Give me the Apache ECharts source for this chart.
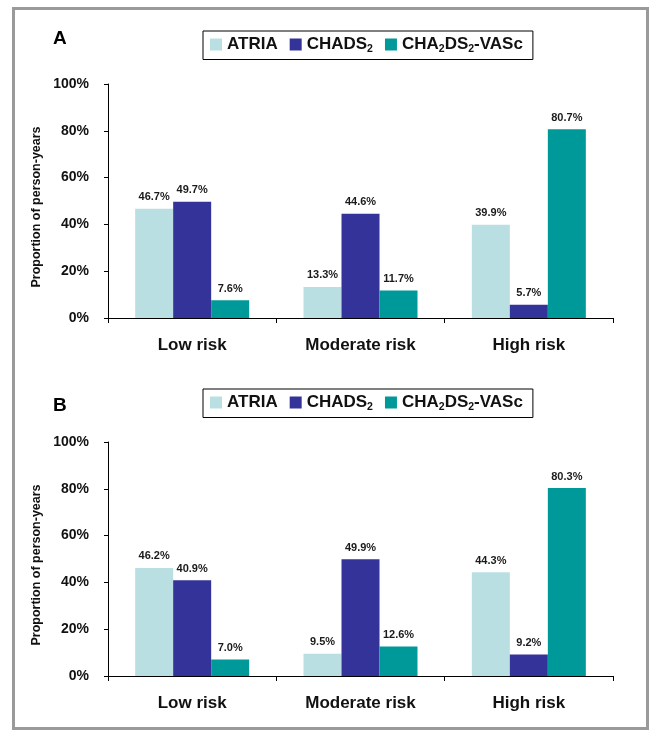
<!DOCTYPE html>
<html>
<head>
<meta charset="utf-8">
<script src="https://cdn.jsdelivr.net/npm/echarts@6/dist/echarts.min.js"></script>
<style>
html,body{margin:0;padding:0;background:#fff;}
#c{width:652px;height:732px;}
</style>
</head>
<body>
<div id="c"></div>
<script>
var categories = ['Low risk', 'Moderate risk', 'High risk'];
var seriesNames = ['ATRIA', 'CHADS2', 'CHA2DS2-VASc'];
var panelA_ATRIA = [46.7, 13.3, 39.9];
var panelA_CHADS2 = [49.7, 44.6, 5.7];
var panelA_VASc = [7.6, 11.7, 80.7];
var panelB_ATRIA = [46.2, 9.5, 44.3];
var panelB_CHADS2 = [40.9, 49.9, 9.2];
var panelB_VASc = [7.0, 12.6, 80.3];
var yTicks = [0, 20, 40, 60, 80, 100];
var panelLabels = ['A', 'B'];
var yTitle = 'Proportion of person-years';

var FONT = "'Liberation Sans', Arial, Helvetica, sans-serif";
var colors = ['#B9DFE2', '#333399', '#009999'];

var chart = echarts.init(document.getElementById('c'), null, {renderer: 'canvas'});

function legendFmt(name) {
  if (name === 'CHADS2') return '{b|CHADS}{s|2}';
  if (name === 'CHA2DS2-VASc') return '{b|CHA}{s|2}{b|DS}{s|2}{b|-VASc}';
  return '{b|' + name + '}';
}

function makeLegend(top) {
  return {
    left: 203, top: top,
    orient: 'horizontal',
    data: seriesNames,
    icon: 'rect',
    itemWidth: 12, itemHeight: 12,
    itemGap: 12,
    padding: [5, 10, 5, 7],
    borderColor: '#000', borderWidth: 1,
    selectedMode: false,
    formatter: legendFmt,
    textStyle: {
      color: '#111',
      fontFamily: FONT,
      rich: {
        b: {fontSize: 17, fontWeight: 'bold', fontFamily: FONT, color: '#111'},
        s: {fontSize: 10.5, fontWeight: 'bold', fontFamily: FONT, color: '#111', padding: [9, 0, 0, 0]}
      }
    }
  };
}

var gridTops = [84, 442];
var panels = [
  [panelA_ATRIA, panelA_CHADS2, panelA_VASc],
  [panelB_ATRIA, panelB_CHADS2, panelB_VASc]
];

var grids = [], xAxes = [], yAxes = [], series = [];
gridTops.forEach(function (t, gi) {
  grids.push({left: 108, right: 39, top: t, height: 234, containLabel: false});
  xAxes.push({
    type: 'category', gridIndex: gi, data: categories,
    axisLine: {lineStyle: {color: '#000', width: 1}},
    axisTick: {show: true, length: 5, alignWithLabel: false, lineStyle: {color: '#000'}},
    axisLabel: {fontFamily: FONT, fontWeight: 'bold', fontSize: 17, color: '#111', margin: 19}
  });
  yAxes.push({
    type: 'value', gridIndex: gi, min: yTicks[0], max: yTicks[yTicks.length - 1], interval: 20,
    name: yTitle, nameLocation: 'middle', nameGap: 65, nameMoveOverlap: false,
    nameTextStyle: {fontFamily: FONT, fontWeight: 'bold', fontSize: 12.5, color: '#111', padding: [0, 12, 0, 0]},
    axisLine: {show: true, lineStyle: {color: '#000', width: 1}},
    axisTick: {show: true, length: 4, lineStyle: {color: '#000'}},
    splitLine: {show: false},
    axisLabel: {fontFamily: FONT, fontWeight: 'bold', fontSize: 14, color: '#111', margin: 19,
      formatter: function (v) { return v + '%'; }}
  });
  panels[gi].forEach(function (vals, si) {
    series.push({
      name: seriesNames[si], type: 'bar', xAxisIndex: gi, yAxisIndex: gi,
      data: vals, barWidth: 38, barGap: '0%',
      itemStyle: {color: colors[si]},
      label: {show: true, position: 'top', distance: 6,
        fontFamily: FONT, fontWeight: 'bold', fontSize: 11, color: '#1a1a1a',
        formatter: function (p) { return p.value.toFixed(1) + '%'; }},
      emphasis: {disabled: true}
    });
  });
});

chart.setOption({
  backgroundColor: '#fff',
  animation: false,
  title: [
    {text: panelLabels[0], left: 53, top: 29, padding: 0,
     textStyle: {fontFamily: FONT, fontWeight: 'bold', fontSize: 19, color: '#000'}},
    {text: panelLabels[1], left: 53, top: 396, padding: 0,
     textStyle: {fontFamily: FONT, fontWeight: 'bold', fontSize: 19, color: '#000'}}
  ],
  legend: [makeLegend(31), makeLegend(389)],
  grid: grids, xAxis: xAxes, yAxis: yAxes, series: series,
  graphic: [{
    type: 'rect', silent: true, z: -1,
    shape: {x: 13.5, y: 8.5, width: 634, height: 720},
    style: {fill: 'none', stroke: '#9a9a9a', lineWidth: 3}
  }]
});
</script>
</body>
</html>
